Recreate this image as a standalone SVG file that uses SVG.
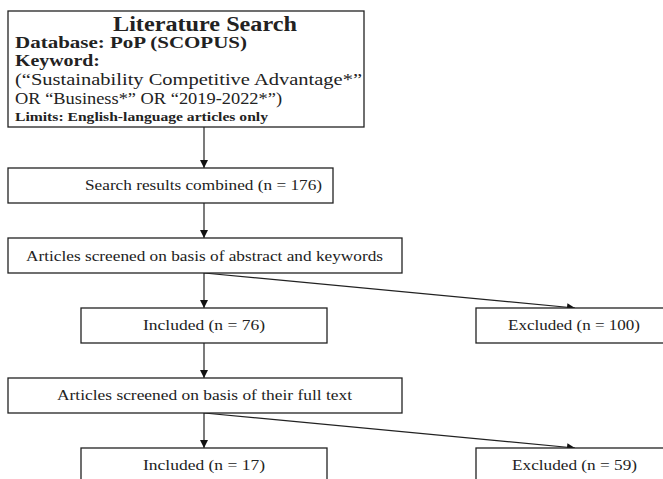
<svg xmlns="http://www.w3.org/2000/svg" width="663" height="479" viewBox="0 0 663 479">
<defs>
<marker id="ah" viewBox="0 0 10 10" refX="10" refY="5" markerWidth="9" markerHeight="8" markerUnits="userSpaceOnUse" orient="auto">
<path d="M0,0 L10,5 L0,10 z" fill="#111"/>
</marker>
<style>
.box{fill:#fff;stroke:#222;stroke-width:1.3}
.t{font-family:"Liberation Serif","Times New Roman",serif;fill:#222}
.b{font-weight:bold}
.c{stroke:#222;stroke-width:1.2;fill:none}
</style>
</defs>
<rect width="663" height="479" fill="#fff"/>
<g id="connectors">
<line class="c" x1="204" y1="127" x2="204" y2="168" marker-end="url(#ah)"/>
<line class="c" x1="204" y1="203" x2="204" y2="238" marker-end="url(#ah)"/>
<line class="c" x1="204" y1="273" x2="204" y2="308" marker-end="url(#ah)"/>
<line class="c" x1="204" y1="273" x2="575" y2="308" marker-end="url(#ah)"/>
<line class="c" x1="204" y1="343" x2="204" y2="378" marker-end="url(#ah)"/>
<line class="c" x1="204" y1="413" x2="204" y2="448" marker-end="url(#ah)"/>
<line class="c" x1="204" y1="413" x2="575" y2="448" marker-end="url(#ah)"/>
</g>
<g id="search">
<rect class="box" x="8" y="11" width="356" height="116"/>
<text class="t b" x="113" y="31" font-size="20.5" textLength="184" lengthAdjust="spacingAndGlyphs">Literature Search</text>
<text class="t b" x="15" y="48" font-size="16.5" textLength="232" lengthAdjust="spacingAndGlyphs">Database: PoP (SCOPUS)</text>
<text class="t b" x="15" y="66" font-size="16.5" textLength="85" lengthAdjust="spacingAndGlyphs">Keyword:</text>
<text class="t" x="15" y="85" font-size="17.5" textLength="347" lengthAdjust="spacingAndGlyphs">(“Sustainability Competitive Advantage*”</text>
<text class="t" x="15" y="104" font-size="17.5" textLength="267" lengthAdjust="spacingAndGlyphs">OR “Business*” OR “2019-2022*”)</text>
<text class="t b" x="15" y="121" font-size="11.5" textLength="253" lengthAdjust="spacingAndGlyphs">Limits: English-language articles only</text>
</g>
<g id="combined">
<rect class="box" x="8" y="168" width="325" height="35"/>
<text class="t" x="85" y="190" font-size="14" textLength="237" lengthAdjust="spacingAndGlyphs">Search results combined (n = 176)</text>
</g>
<g id="screen1">
<rect class="box" x="8" y="238" width="394" height="35"/>
<text class="t" x="26" y="261" font-size="14" textLength="357" lengthAdjust="spacingAndGlyphs">Articles screened on basis of abstract and keywords</text>
</g>
<g id="included1">
<rect class="box" x="81" y="308" width="246" height="35"/>
<text class="t" x="143" y="330" font-size="14" textLength="122" lengthAdjust="spacingAndGlyphs">Included (n = 76)</text>
</g>
<g id="excluded1">
<rect class="box" x="476" y="308" width="190" height="35"/>
<text class="t" x="508" y="330" font-size="14" textLength="132" lengthAdjust="spacingAndGlyphs">Excluded (n = 100)</text>
</g>
<g id="screen2">
<rect class="box" x="8" y="378" width="394" height="35"/>
<text class="t" x="57" y="400" font-size="14" textLength="295" lengthAdjust="spacingAndGlyphs">Articles screened on basis of their full text</text>
</g>
<g id="included2">
<rect class="box" x="81" y="448" width="246" height="40"/>
<text class="t" x="143" y="470" font-size="14" textLength="122" lengthAdjust="spacingAndGlyphs">Included (n = 17)</text>
</g>
<g id="excluded2">
<rect class="box" x="476" y="448" width="190" height="40"/>
<text class="t" x="512" y="470" font-size="14" textLength="125" lengthAdjust="spacingAndGlyphs">Excluded (n = 59)</text>
</g>
</svg>
